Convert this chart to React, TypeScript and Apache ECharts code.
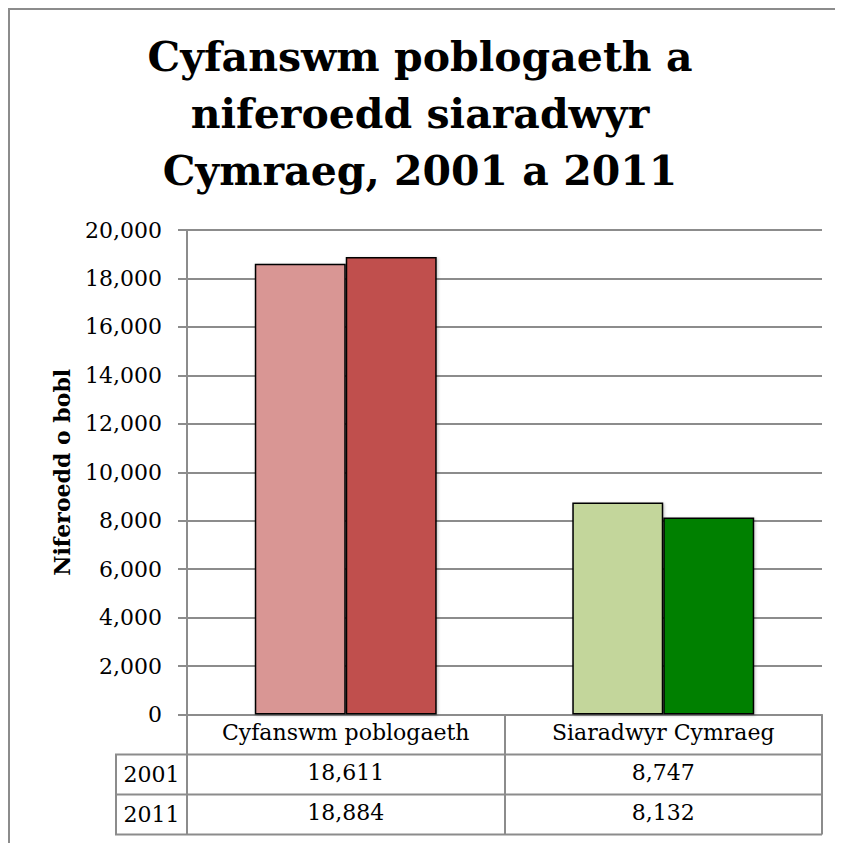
import React, { useEffect, useRef } from "react";
import * as echarts from "echarts";

const categories = ["Cyfanswm poblogaeth", "Siaradwyr Cymraeg"];
const years = ["2001", "2011"];
const values2001 = [18611, 8747];
const values2011 = [18884, 8132];
const colors2001 = ["#D99694", "#C3D69B"];
const colors2011 = ["#C0504D", "#008000"];
const yMin = 0;
const yMax = 20000;
const yInterval = 2000;
const titleText = "Cyfanswm poblogaeth a\nniferoedd siaradwyr\nCymraeg, 2001 a 2011";
const yName = "Niferoedd o bobl";

const fmt = (v: number) => v.toLocaleString("en-US");
const SERIF = "'DejaVu Serif', serif";
const GRAY = "#8C8C8C";

export default function App() {
  const ref = useRef<HTMLDivElement>(null);
  useEffect(() => {
    if (!ref.current) return;
    document.documentElement.style.overflow = "hidden";
    document.body.style.overflow = "hidden";
    const chart = echarts.init(ref.current, null, { renderer: "svg" });
    const W = 835;
    const H = 835;
    const gridLeft = 179;
    const gridRight = W - 814;
    const gridTop = 222;
    const zeroY = 706.5;
    const gridBottom = H - zeroY;
    const plotRight = W - gridRight;
    const tableLeft = 108;
    const rowH = 40;

    const barStyle = {
      borderColor: "#000",
      borderWidth: 1.5,
      shadowColor: "rgba(0,0,0,0.25)",
      shadowBlur: 3,
      shadowOffsetX: 1,
      shadowOffsetY: 1,
    };

    const tableAxis = (offset: number, vals: number[] | null) => ({
      type: "category",
      gridIndex: 0,
      position: "bottom",
      offset,
      data: categories,
      axisLine: { show: offset === 0, lineStyle: { color: GRAY, width: 2 } },
      axisTick: {
        show: offset === 0,
        alignWithLabel: false,
        length: rowH * 3,
        lineStyle: { color: GRAY, width: 2 },
      },
      axisLabel: {
        margin: 7,
        fontFamily: SERIF,
        fontSize: 22,
        color: "#000",
        interval: 0,
        formatter: vals
          ? (_v: string, i: number) => fmt(vals[i])
          : (v: string) => v,
      },
      splitLine: { show: false },
    });

    const graphics: any[] = [
      { type: "line", shape: { x1: 0, y1: 1, x2: W, y2: 1 }, style: { stroke: GRAY, lineWidth: 2 } },
      { type: "line", shape: { x1: 1, y1: 0, x2: 1, y2: H }, style: { stroke: GRAY, lineWidth: 2 } },
      { type: "line", shape: { x1: tableLeft, y1: zeroY + rowH, x2: tableLeft, y2: zeroY + rowH * 3 }, style: { stroke: GRAY, lineWidth: 2 } },
    ];
    for (let r = 1; r <= 3; r++) {
      graphics.push({
        type: "line",
        shape: { x1: tableLeft - 1, y1: zeroY + rowH * r, x2: plotRight, y2: zeroY + rowH * r },
        style: { stroke: GRAY, lineWidth: 2 },
      });
    }
    years.forEach((y, i) => {
      graphics.push({
        type: "text",
        x: (tableLeft + gridLeft) / 2,
        y: zeroY + rowH * (i + 1) + rowH / 2,
        style: {
          text: y,
          fontFamily: SERIF,
          fontSize: 22,
          fill: "#000",
          align: "center",
          verticalAlign: "middle",
        },
      });
    });

    chart.setOption({
      animation: false,
      backgroundColor: "#fff",
      title: {
        text: titleText,
        left: 412,
        textAlign: "center",
        top: 20,
        padding: 0,
        textStyle: {
          fontFamily: SERIF,
          fontWeight: "bold",
          fontSize: 41,
          lineHeight: 57,
          color: "#000",
        },
      },
      grid: { left: gridLeft, right: gridRight, top: gridTop, bottom: gridBottom, containLabel: false },
      xAxis: [tableAxis(0, null), tableAxis(rowH, values2001), tableAxis(rowH * 2, values2011)],
      yAxis: {
        type: "value",
        min: yMin,
        max: yMax,
        interval: yInterval,
        name: yName,
        nameLocation: "middle",
        nameGap: 114,
        nameTextStyle: { fontFamily: SERIF, fontWeight: "bold", fontSize: 22, color: "#000" },
        axisLine: { show: true, lineStyle: { color: GRAY, width: 2 } },
        axisTick: { show: true, length: 9, lineStyle: { color: GRAY, width: 2 } },
        axisLabel: { margin: 25, fontFamily: SERIF, fontSize: 22, color: "#000", formatter: (v: number) => fmt(v) },
        splitLine: { show: true, lineStyle: { color: GRAY, width: 2 } },
      },
      series: [
        {
          name: years[0],
          type: "bar",
          xAxisIndex: 0,
          barGap: "0%",
          barCategoryGap: "42.7%",
          itemStyle: barStyle,
          data: values2001.map((v, i) => ({ value: v, itemStyle: { color: colors2001[i] } })),
        },
        {
          name: years[1],
          type: "bar",
          xAxisIndex: 0,
          barGap: "0%",
          barCategoryGap: "42.7%",
          itemStyle: barStyle,
          data: values2011.map((v, i) => ({ value: v, itemStyle: { color: colors2011[i] } })),
        },
      ],
      graphic: graphics,
    });
    return () => chart.dispose();
  }, []);
  return <div ref={ref} style={{ width: 835, height: 835 }} />;
}
